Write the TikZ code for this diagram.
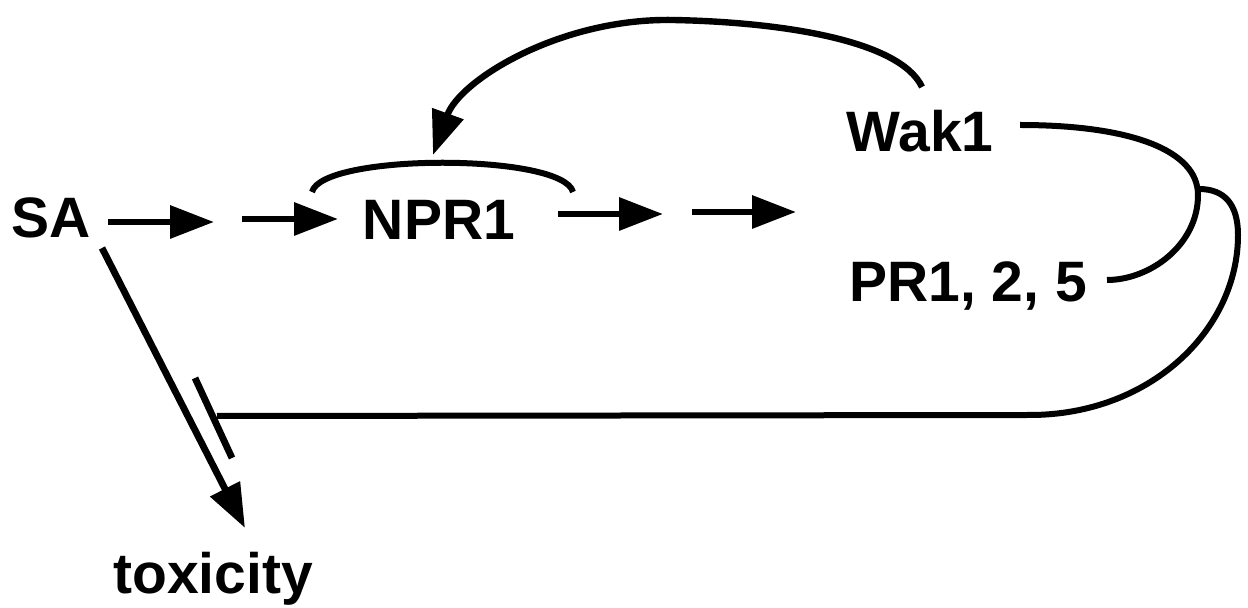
\documentclass[tikz,border=0pt]{standalone}
\usepackage{fontspec}
\setmainfont{Liberation Sans}
\usetikzlibrary{arrows.meta}
\tikzset{
  lbl/.style={anchor=base, inner sep=0pt, font=\fontsize{28.5}{30}\selectfont\bfseries},
  ln/.style={line width=3pt},
  arr/.style={line width=3.2pt, -{Triangle[length=22pt,width=16pt]}},
}
\begin{document}
\begin{tikzpicture}[x=0.5pt,y=-0.5pt]
\useasboundingbox (0,0) rectangle (1248,608);
% labels
\node[lbl] (sa) at (51,238) {SA};
\node[lbl] (npr) at (439,240) {NPR1};
\node[lbl] (wak) at (920,152) {Wak1};
\node[lbl] (pr) at (968,302) {PR1, 2, 5};
\node[lbl] (tox) at (213,594) {toxicity};
% coordinates
\coordinate (a1s) at (108,222); \coordinate (a1e) at (214,222);
\coordinate (a2s) at (242,219); \coordinate (a2e) at (338,219);
\coordinate (a3s) at (558,214); \coordinate (a3e) at (663,214);
\coordinate (a4s) at (692,212); \coordinate (a4e) at (796,212);
\coordinate (nl) at (312,192); \coordinate (nr) at (573,192);
\coordinate (ws) at (922,87); \coordinate (top) at (673,20); \coordinate (wt) at (433,155);
\coordinate (wr) at (1020,125); \coordinate (jn) at (1198,195); \coordinate (pe) at (1107,280);
\coordinate (js) at (1199,189); \coordinate (rx) at (1238,235); \coordinate (bb) at (1030,415);
\coordinate (bh) at (217,416);
\coordinate (b1) at (195,378); \coordinate (b2) at (232,458);
\coordinate (ts) at (102,248); \coordinate (te) at (245,528);
% pathway arrows
\draw[arr] (a1s) -- (a1e);
\draw[arr] (a2s) -- (a2e);
\draw[arr] (a3s) -- (a3e);
\draw[arr] (a4s) -- (a4e);
% NPR1 bracket
\draw[ln] (nl) .. controls (322,153) and (563,153) .. (nr);
% Wak1 -> NPR1
\draw[arr] (ws) .. controls (900,40) and (780,22) .. (top) .. controls (560,18) and (460,80) .. (wt);
% right bracket
\draw[ln] (wr) .. controls (1130,125) and (1198,150) .. (jn) .. controls (1198,245) and (1150,280) .. (pe);
% inhibition line
\draw[ln] (js) .. controls (1225,189) and (1238,205) .. (rx) .. controls (1238,330) and (1150,415) .. (bb) -- (bh);
\draw[line width=3.4pt] (b1) -- (b2);
% SA -> toxicity
\draw[arr, line width=3.4pt] (ts) -- (te);
\end{tikzpicture}
\end{document}
